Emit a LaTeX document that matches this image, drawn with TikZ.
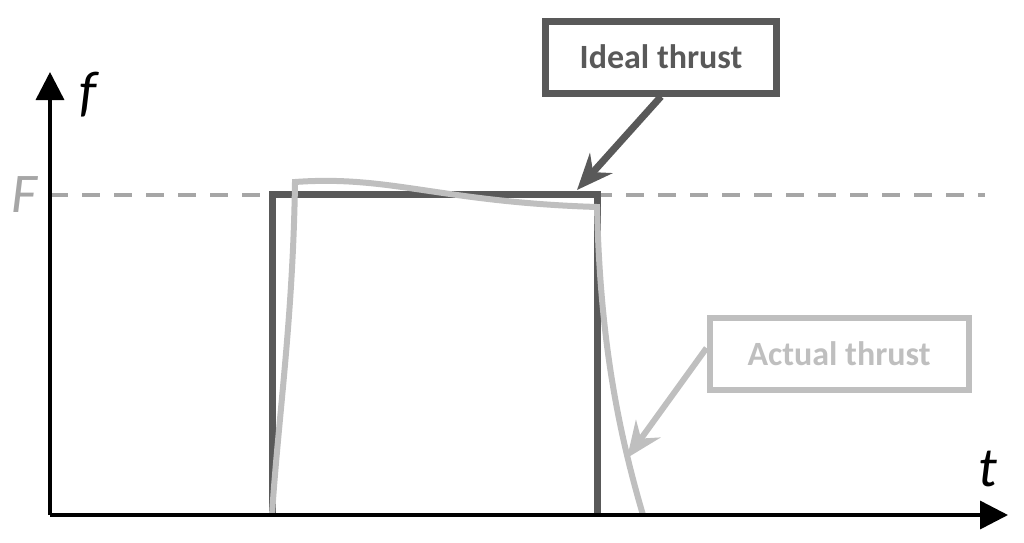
\documentclass[tikz,border=0pt]{standalone}
\usepackage{fontspec}
\setmainfont{Carlito}
\usetikzlibrary{arrows.meta}

\definecolor{idealgray}{HTML}{595959}
\definecolor{actualgray}{HTML}{BFBFBF}
\definecolor{levelgray}{HTML}{A6A6A6}

\tikzset{
  axis/.style={draw=black,line width=3.5pt,-{Triangle[length=28pt,width=28pt]}},
  level/.style={draw=levelgray,line width=4.5pt,dash pattern=on 18pt off 14pt},
  ideal/.style={draw=idealgray,line width=7pt,line join=miter},
  actual/.style={draw=actualgray,line width=6pt,line join=miter},
  callout/.style={rectangle,line width=#1,inner sep=0pt,
    font=\fontsize{34}{40}\selectfont\bfseries},
  calloutarrow/.style={line width=#1,-{Stealth[length=36pt,width=30pt,inset=12pt]}},
  axislabel/.style={inner sep=0pt,font=\fontsize{56}{64}\selectfont\itshape}
}

\begin{document}
\begin{tikzpicture}[x=1pt,y=-1pt]

\useasboundingbox (0,0) rectangle (1024,542);

\coordinate (o) at (50,515);
\coordinate (ftop) at (50,72);
\coordinate (tend) at (1008,515);
\coordinate (Fleft) at (50,195);
\coordinate (Fright) at (985,195);

\node [axislabel] (f) at (88,95) {f};
\node [axislabel] (t) at (988,469) {t};
\node [axislabel,text=levelgray] (F) at (24,195) {F};

\path [level] (Fleft) -- (Fright);

\path [ideal]
    (272,515) -- (272,194) -- (597,194) -- (597,515);

\path [actual]
    (272,515) .. controls (278,420) and (293,320) .. (295,182)
    .. controls (390,175) and (440,202) .. (597,207)
    .. controls (600,330) and (615,420) .. (643,515);

\path [axis] (o) -- (ftop);
\path [axis] (o) -- (tend);

\node [callout=7pt,draw=idealgray,text=idealgray,
       minimum width=231pt,minimum height=72pt] (ideal) at (661,57) {Ideal thrust};
\node [callout=6pt,draw=actualgray,text=actualgray,
       minimum width=259pt,minimum height=72pt] (actual) at (839,354) {Actual thrust};

\coordinate (idealtip) at (577,190);
\coordinate (actualtip) at (627,458);

\path [draw=idealgray,calloutarrow=7pt] (ideal.south) -- (idealtip);
\path [draw=actualgray,calloutarrow=6pt] ([yshift=6pt]actual.west) -- (actualtip);

\end{tikzpicture}
\end{document}
